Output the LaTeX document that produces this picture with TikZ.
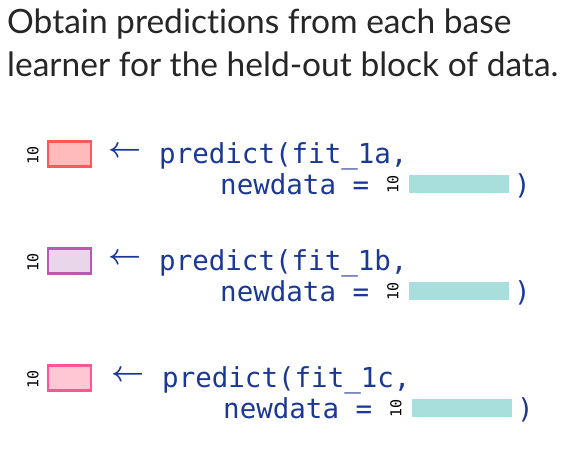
\documentclass[tikz,border=0pt]{standalone}
\usepackage{bm}
\usepackage{fontspec}
\setmainfont{Lato}[Ligatures=NoCommon]
\setmonofont{DejaVu Sans Mono}
\usepackage{tikz}
\usetikzlibrary{positioning,calc}
\usepackage{xcolor}
\definecolor{codeblue}{RGB}{28,56,150}
\definecolor{titlegray}{RGB}{38,38,38}
\definecolor{redfill}{RGB}{255,187,187}
\definecolor{redline}{RGB}{255,88,88}
\definecolor{purplefill}{RGB}{234,214,234}
\definecolor{purpleline}{RGB}{185,90,176}
\definecolor{pinkfill}{RGB}{255,198,211}
\definecolor{pinkline}{RGB}{255,85,150}
\definecolor{heldteal}{RGB}{168,222,219}

\tikzset{
    code/.style={font=\ttfamily\fontsize{27.5}{30}\selectfont, text=codeblue, inner sep=0pt},
    assign/.style={text=codeblue, inner sep=0pt},
    rowlabel/.style={font=\ttfamily\fontsize{15}{15}\selectfont, rotate=90, inner sep=0pt},
    predbox/.style={line width=2.5pt, minimum width=43pt, minimum height=25pt, inner sep=0pt},
    heldbar/.style={fill=heldteal, minimum width=100pt, minimum height=18pt, inner sep=0pt}
}
\newcommand{\assignarrow}{\resizebox{33pt}{!}{$\bm{\leftarrow}$}}

\begin{document}
\begin{tikzpicture}[x=1pt, y=-1pt]
    \useasboundingbox (0,0) rectangle (565,469);
    % Title
    \node[anchor=north west, align=left, text=titlegray, inner sep=0pt,
          font=\fontsize{33.5}{43}\selectfont] (title) at (7,9)
        {Obtain predictions from each base\\learner for the held-out block of data.};

    % Base learner 1a
    \begin{scope}[shift={(0,0)}]
        \node[rowlabel] (lab1a) at (33,155) {10};
        \node[predbox, draw=redline, fill=redfill] (pred1a) at (69.5,154) {};
        \node[assign] (arr1a) at (125.5,152) {\assignarrow};
        \node[code, anchor=base west] (call1a) at (159,163) {predict(fit\_1a,};
        \node[code, anchor=base west] (new1a) at (220,194) {newdata =};
        \node[rowlabel] (held1a) at (393,184) {10};
        \node[heldbar] (bar1a) at (459,184) {};
        \node[code, anchor=base west] (close1a) at (514,194) {)};
    \end{scope}

    % Base learner 1b
    \begin{scope}[shift={(0,107)}]
        \node[rowlabel] (lab1b) at (33,155) {10};
        \node[predbox, draw=purpleline, fill=purplefill] (pred1b) at (69.5,154) {};
        \node[assign] (arr1b) at (125.5,152) {\assignarrow};
        \node[code, anchor=base west] (call1b) at (159,163) {predict(fit\_1b,};
        \node[code, anchor=base west] (new1b) at (220,194) {newdata =};
        \node[rowlabel] (held1b) at (393,184) {10};
        \node[heldbar] (bar1b) at (459,184) {};
        \node[code, anchor=base west] (close1b) at (514,194) {)};
    \end{scope}

    % Base learner 1c
    \begin{scope}[shift={(0,224)}]
        \node[rowlabel] (lab1c) at (33,155) {10};
        \node[predbox, draw=pinkline, fill=pinkfill] (pred1c) at (69.5,154) {};
        \node[assign] (arr1c) at (128.5,152) {\assignarrow};
        \node[code, anchor=base west] (call1c) at (162,163) {predict(fit\_1c,};
        \node[code, anchor=base west] (new1c) at (223,194) {newdata =};
        \node[rowlabel] (held1c) at (396,184) {10};
        \node[heldbar] (bar1c) at (462,184) {};
        \node[code, anchor=base west] (close1c) at (517,194) {)};
    \end{scope}
\end{tikzpicture}
\end{document}
